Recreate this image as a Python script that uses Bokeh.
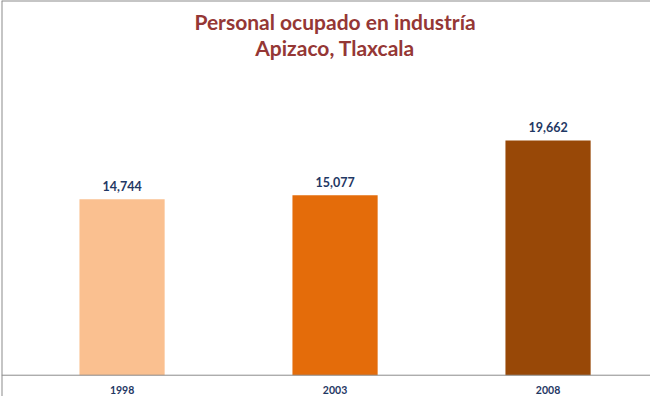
from bokeh.plotting import figure
from bokeh.models import Span, Label, ColumnDataSource, Range1d
from bokeh.core.properties import value
from bokeh.embed import file_html
from bokeh.resources import INLINE

years = ["1998", "2003", "2008"]
personal = [14744, 15077, 19662]
bar_colors = ["#FAC090", "#E46C0A", "#984807"]
title_lines = ["Personal ocupado en industría", "Apizaco, Tlaxcala"]

xs = list(range(len(years)))
src = ColumnDataSource(dict(
    x=xs, top=personal, base=[0] * len(xs), color=bar_colors, year=years,
    label=[f"{v:,}" for v in personal],
))

FONT = "Lato"
GRAY = "#8C8C8C"
NAVY = "#1F3864"

p = figure(width=650, height=396, output_backend="svg", toolbar_location=None,
           x_range=Range1d(-0.566, 2.481), y_range=Range1d(-1784, 31390),
           x_axis_location=None, y_axis_location=None,
           min_border_left=1, min_border_right=0, min_border_top=0, min_border_bottom=0)
p.background_fill_color = "white"
p.border_fill_color = "white"
p.outline_line_color = None
p.xgrid.visible = False
p.ygrid.visible = False

p.vbar(x="x", top="top", bottom="base", width=0.4, fill_color="color", line_color=None, source=src)

# category baseline
p.add_layout(Span(location=0, dimension="width", line_color=GRAY, line_width=1))

# category labels
p.text(x="x", y="base", text="year", source=src, y_offset=15,
       text_align="center", text_baseline="middle",
       text_font=value(FONT), text_font_style="bold", text_font_size="10.5px",
       text_color=NAVY)

# value labels
p.text(x="x", y="top", text="label", source=src, y_offset=-13,
       text_align="center", text_baseline="middle",
       text_font=value(FONT), text_font_style="bold", text_font_size="12.5px",
       text_color=NAVY)

# chart area border (top and left)
p.add_layout(Span(location=p.y_range.end, dimension="width", line_color=GRAY, line_width=2))
p.add_layout(Span(location=p.x_range.start, dimension="height", line_color=GRAY, line_width=2))

for txt, yy in zip(title_lines, [375, 349]):
    p.add_layout(Label(x=1, y=yy, x_units="data", y_units="screen", text=txt,
                       text_align="center", text_baseline="middle",
                       text_font=FONT, text_font_style="bold", text_font_size="21px",
                       text_color="#953735"))

open("out.html", "w").write(file_html(p, INLINE))
